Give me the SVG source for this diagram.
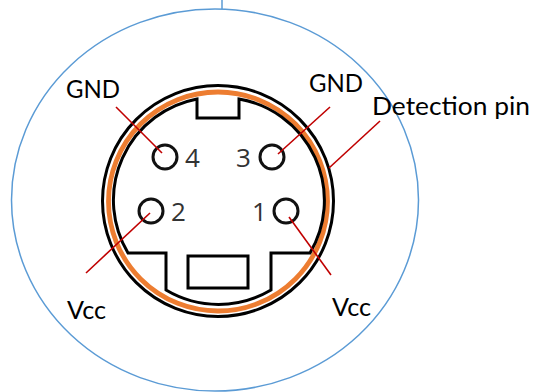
<svg xmlns="http://www.w3.org/2000/svg" width="536" height="392" viewBox="0 0 536 392">
<style>
.blue{fill:none;stroke:#5b9bd5;stroke-width:1.5}
.blk{fill:none;stroke:#000;stroke-width:3}
.pin{fill:none;stroke:#111;stroke-width:3}
.org{fill:none;stroke:#ed7d31;stroke-width:4.800}
.red{stroke:#c00000;stroke-width:1.6;fill:none}
.lab{font-family:Lato,"Open Sans",sans-serif;font-size:25px;fill:#000}
.num{font-family:"Open Sans",sans-serif;font-size:26px;fill:#333}
</style>
<rect width="536" height="392" fill="#fff"/>
<g id="outline">
<ellipse class="blue" cx="215" cy="200" rx="203.500" ry="191"/>
<line class="blue" x1="222" y1="0" x2="222" y2="9"/>
</g>
<g id="connector">
<circle class="blk" cx="218" cy="201" r="115.500"/>
<circle class="org" cx="218" cy="201.500" r="109.500"/>
<path class="blk" d="M197 99V118H239V99A103 103 0 0 1 310 253H271V290A103 103 0 0 1 166 290V253H128A103 103 0 0 1 197 99Z"/>
<rect class="blk" x="188" y="256" width="60" height="32"/>
</g>
<g id="pin4"><circle class="pin" cx="165" cy="157" r="12"/><text class="num" x="185" y="167">4</text></g>
<g id="pin3"><circle class="pin" cx="272" cy="157" r="12"/><text class="num" x="236" y="167">3</text></g>
<g id="pin2"><circle class="pin" cx="151" cy="211" r="12"/><text class="num" x="171" y="221">2</text></g>
<g id="pin1"><circle class="pin" cx="286" cy="211" r="12"/><text class="num" x="252" y="221">1</text></g>
<g id="connectors">
<line class="red" x1="116" y1="107" x2="162" y2="153"/>
<line class="red" x1="330" y1="107" x2="278" y2="154"/>
<line class="red" x1="380" y1="121" x2="329" y2="168"/>
<line class="red" x1="150" y1="213" x2="86" y2="273"/>
<line class="red" x1="289" y1="217" x2="331" y2="275"/>
</g>
<g id="labels">
<text class="lab" x="66" y="98" textLength="54" lengthAdjust="spacingAndGlyphs">GND</text>
<text class="lab" x="309" y="92" textLength="54" lengthAdjust="spacingAndGlyphs">GND</text>
<text class="lab" x="372" y="115" textLength="158" lengthAdjust="spacingAndGlyphs">Detection pin</text>
<text class="lab" x="67" y="319" textLength="39" lengthAdjust="spacingAndGlyphs">Vcc</text>
<text class="lab" x="332" y="316" textLength="39" lengthAdjust="spacingAndGlyphs">Vcc</text>
</g>
</svg>
